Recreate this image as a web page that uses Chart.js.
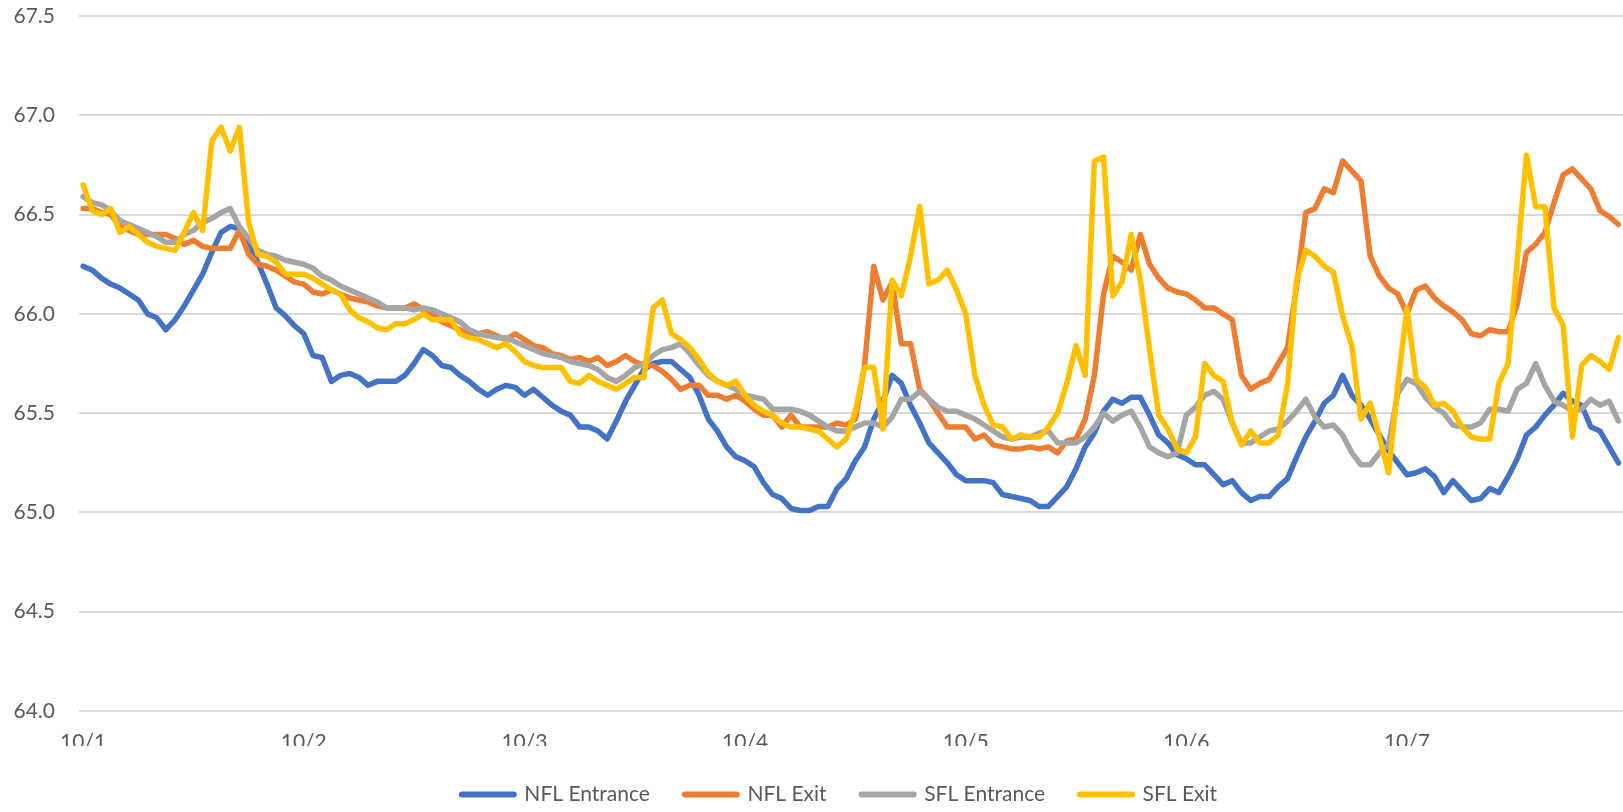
<!DOCTYPE html>
<html><head><meta charset="utf-8">
<script src="https://cdn.jsdelivr.net/npm/chart.js@4"></script>
<style>html,body{margin:0;padding:0;background:#fff;overflow:hidden}#wrap{width:1623px;height:812px;position:relative}</style>
</head><body><div id="wrap"><canvas id="c"></canvas></div>
<script>
const dayLabels = ['10/1','10/2','10/3','10/4','10/5','10/6','10/7'];
const seriesNames = ['NFL Entrance','NFL Exit','SFL Entrance','SFL Exit'];

const nflEntrance = [
66.24,66.22,66.18,66.15,66.13,66.10,66.07,66.00,65.98,65.92,65.97,66.04,66.12,66.20,66.31,66.41,66.44,66.43,66.36,66.26,66.15,66.03,65.99,65.94,
65.90,65.79,65.78,65.66,65.69,65.70,65.68,65.64,65.66,65.66,65.66,65.69,65.75,65.82,65.79,65.74,65.73,65.69,65.66,65.62,65.59,65.62,65.64,65.63,
65.59,65.62,65.58,65.54,65.51,65.49,65.43,65.43,65.41,65.37,65.46,65.56,65.64,65.72,65.75,65.76,65.76,65.72,65.68,65.59,65.47,65.41,65.33,65.28,
65.26,65.23,65.15,65.09,65.07,65.02,65.01,65.01,65.03,65.03,65.12,65.17,65.26,65.33,65.47,65.56,65.69,65.65,65.54,65.45,65.35,65.30,65.25,65.19,
65.16,65.16,65.16,65.15,65.09,65.08,65.07,65.06,65.03,65.03,65.08,65.13,65.22,65.33,65.40,65.51,65.57,65.55,65.58,65.58,65.49,65.39,65.35,65.29,
65.27,65.24,65.24,65.19,65.14,65.16,65.10,65.06,65.08,65.08,65.13,65.17,65.28,65.38,65.46,65.55,65.59,65.69,65.59,65.54,65.47,65.39,65.31,65.25,
65.19,65.20,65.22,65.18,65.10,65.16,65.11,65.06,65.07,65.12,65.10,65.18,65.27,65.39,65.43,65.49,65.54,65.60,65.56,65.54,65.43,65.41,65.33,65.25];

const nflExit = [
66.53,66.53,66.51,66.50,66.44,66.42,66.40,66.40,66.40,66.40,66.38,66.35,66.37,66.34,66.33,66.33,66.33,66.42,66.30,66.25,66.24,66.22,66.19,66.16,
66.15,66.11,66.10,66.12,66.10,66.08,66.07,66.06,66.04,66.03,66.03,66.03,66.05,66.02,66.00,65.96,65.94,65.92,65.90,65.90,65.91,65.89,65.87,65.90,
65.87,65.84,65.83,65.80,65.79,65.77,65.78,65.76,65.78,65.74,65.76,65.79,65.76,65.74,65.74,65.71,65.67,65.62,65.64,65.64,65.59,65.59,65.57,65.59,
65.56,65.52,65.49,65.49,65.43,65.49,65.43,65.43,65.43,65.43,65.45,65.44,65.47,65.74,66.24,66.07,66.16,65.85,65.85,65.62,65.57,65.50,65.43,65.43,
65.43,65.37,65.39,65.34,65.33,65.32,65.32,65.33,65.32,65.33,65.30,65.36,65.37,65.47,65.69,66.10,66.29,66.26,66.22,66.40,66.25,66.18,66.13,66.11,
66.10,66.07,66.03,66.03,66.00,65.97,65.69,65.62,65.65,65.67,65.75,65.83,66.14,66.51,66.53,66.63,66.61,66.77,66.72,66.67,66.29,66.19,66.13,66.10,
66.00,66.12,66.14,66.08,66.04,66.01,65.97,65.90,65.89,65.92,65.91,65.91,66.05,66.31,66.35,66.41,66.56,66.70,66.73,66.68,66.63,66.52,66.49,66.45];

const sflEntrance = [
66.59,66.56,66.55,66.52,66.47,66.45,66.43,66.41,66.39,66.36,66.36,66.40,66.42,66.46,66.48,66.51,66.53,66.44,66.38,66.32,66.30,66.29,66.27,66.26,
66.25,66.23,66.19,66.17,66.14,66.12,66.10,66.08,66.06,66.03,66.03,66.03,66.02,66.03,66.02,66.00,65.98,65.96,65.92,65.90,65.89,65.88,65.88,65.86,
65.84,65.82,65.80,65.79,65.78,65.76,65.75,65.74,65.72,65.68,65.66,65.69,65.73,65.75,65.79,65.82,65.83,65.85,65.80,65.74,65.69,65.66,65.64,65.62,
65.59,65.58,65.57,65.52,65.52,65.52,65.51,65.49,65.46,65.43,65.41,65.41,65.43,65.45,65.45,65.43,65.48,65.57,65.57,65.61,65.57,65.53,65.51,65.51,
65.49,65.47,65.44,65.41,65.38,65.37,65.38,65.38,65.40,65.41,65.35,65.35,65.35,65.38,65.43,65.50,65.46,65.49,65.51,65.43,65.33,65.30,65.28,65.30,
65.49,65.53,65.59,65.61,65.57,65.45,65.35,65.35,65.38,65.41,65.42,65.46,65.51,65.57,65.48,65.43,65.44,65.39,65.30,65.24,65.24,65.30,65.34,65.60,
65.67,65.65,65.58,65.53,65.50,65.44,65.43,65.43,65.45,65.52,65.52,65.51,65.62,65.65,65.75,65.64,65.56,65.54,65.51,65.52,65.57,65.54,65.56,65.46];

const sflExit = [
66.65,66.52,66.50,66.53,66.41,66.44,66.40,66.36,66.34,66.33,66.32,66.41,66.51,66.42,66.87,66.94,66.82,66.94,66.46,66.30,66.29,66.26,66.20,66.20,
66.20,66.18,66.15,66.12,66.10,66.02,65.98,65.96,65.93,65.92,65.95,65.95,65.97,66.00,65.97,65.97,65.97,65.90,65.88,65.87,65.85,65.83,65.85,65.81,
65.76,65.74,65.73,65.73,65.73,65.66,65.65,65.69,65.66,65.64,65.62,65.65,65.68,65.68,66.03,66.07,65.90,65.87,65.83,65.77,65.70,65.66,65.64,65.66,
65.59,65.54,65.51,65.49,65.45,65.43,65.43,65.42,65.41,65.37,65.33,65.37,65.51,65.73,65.73,65.42,66.17,66.09,66.29,66.54,66.15,66.17,66.22,66.12,
66.00,65.69,65.54,65.44,65.43,65.37,65.39,65.38,65.38,65.43,65.50,65.65,65.84,65.69,66.77,66.79,66.09,66.16,66.40,66.17,65.82,65.49,65.42,65.32,
65.30,65.38,65.75,65.69,65.66,65.45,65.34,65.41,65.35,65.35,65.39,65.64,66.17,66.32,66.29,66.24,66.21,65.99,65.84,65.47,65.55,65.38,65.20,65.64,
66.03,65.67,65.63,65.54,65.55,65.51,65.43,65.38,65.37,65.37,65.65,65.75,66.27,66.80,66.54,66.54,66.03,65.94,65.38,65.74,65.79,65.76,65.72,65.88];

const seriesValues = [nflEntrance, nflExit, sflEntrance, sflExit];
const seriesColors = ['#4472C4', '#ED7D31', '#A5A5A5', '#FFC000'];
const textColor = '#595959';
const fontFamily = 'Lato, "Open Sans", sans-serif';

const datasets = seriesValues.map((vals, s) => ({
  label: seriesNames[s],
  data: vals.map((v, i) => ({ x: i, y: v })),
  borderColor: seriesColors[s],
  backgroundColor: seriesColors[s],
  borderWidth: 5.5,
  pointRadius: 0,
  pointHoverRadius: 0,
  tension: 0,
  fill: false,
  borderJoinStyle: 'round',
  borderCapStyle: 'round',
  order: seriesValues.length - s
}));

// Legend in the reference sits a little right of centre and slightly lower
const legendShift = {
  id: 'legendShift',
  afterLayout(chart) {
    const l = chart.legend;
    if (l) { l.left += 22; l.right += 22; l.top += 3; l.bottom += 3; }
  }
};

new Chart(document.getElementById('c'), {
  type: 'line',
  data: { datasets },
  plugins: [legendShift],
  options: {
    responsive: true,
    maintainAspectRatio: false,
    animation: false,
    devicePixelRatio: 1,
    layout: { padding: { left: 12, right: 0, top: 16, bottom: 0 } },
    plugins: {
      tooltip: { enabled: false },
      legend: {
        position: 'bottom',
        labels: {
          boxWidth: 52,
          boxHeight: 0,
          padding: 35,
          color: textColor,
          font: { family: fontFamily, size: 21 },
          generateLabels: (chart) => chart.data.datasets.map((ds, i) => ({
            text: ds.label,
            fillStyle: ds.borderColor,
            strokeStyle: ds.borderColor,
            lineWidth: 6,
            lineJoin: 'round',
            lineCap: 'round',
            hidden: false,
            datasetIndex: i,
            fontColor: textColor
          }))
        }
      }
    },
    scales: {
      x: {
        type: 'linear',
        min: -0.45,
        max: 167.5,
        grid: { display: false, drawTicks: false },
        border: { display: false },
        afterBuildTicks: (s) => { s.ticks = dayLabels.map((d, k) => ({ value: k * 24 })); },
        afterFit: (s) => { s.height = 35; },
        ticks: {
          autoSkip: false,
          maxRotation: 0,
          padding: 19,
          color: textColor,
          font: { family: fontFamily, size: 21 },
          callback: (v) => dayLabels[Math.round(v / 24)]
        }
      },
      y: {
        min: 64,
        max: 67.5,
        afterFit: (s) => { s.width = 67; s.paddingTop = 12; s.paddingBottom = 12; },
        grid: { color: '#D9D9D9', lineWidth: 2, drawTicks: false },
        border: { display: false },
        ticks: {
          stepSize: 0.5,
          padding: 24,
          color: textColor,
          font: { family: fontFamily, size: 21 },
          callback: (v) => v.toFixed(1)
        }
      }
    }
  }
});
</script>
</body></html>
